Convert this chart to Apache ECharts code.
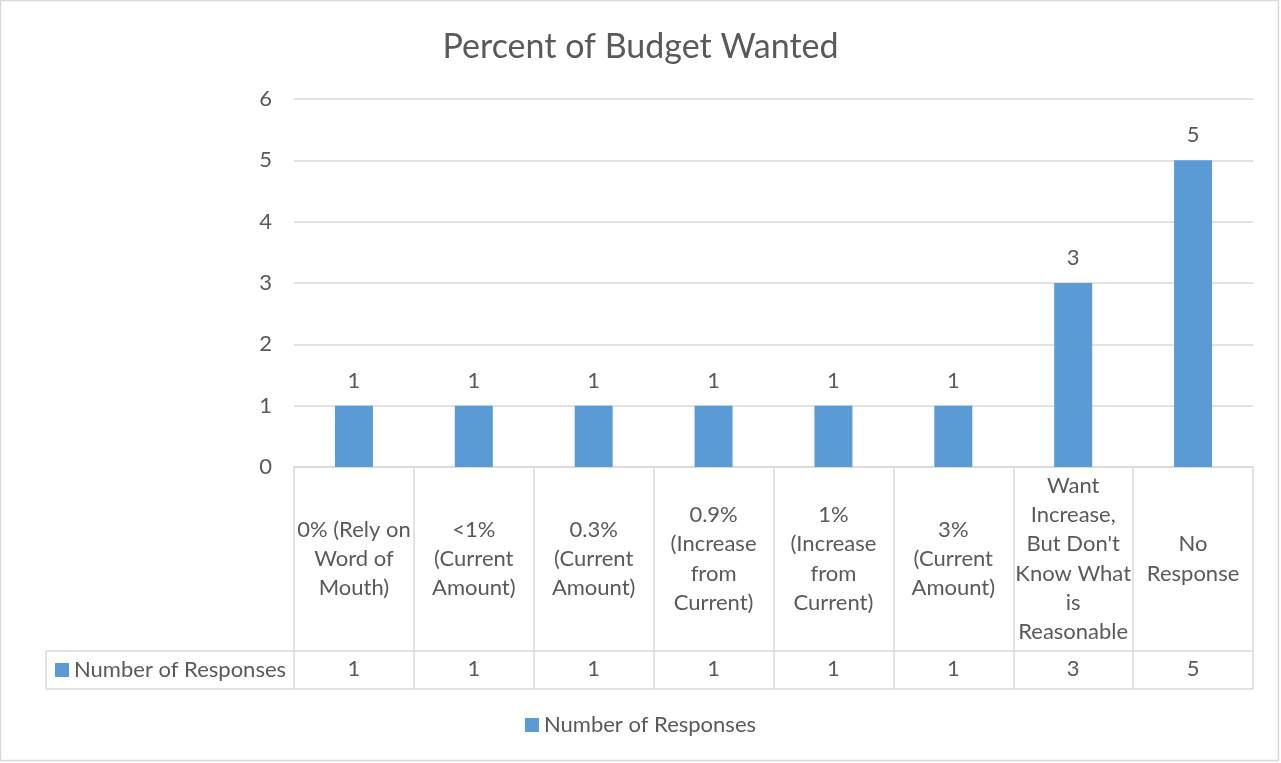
<!DOCTYPE html>
<html>
<head>
<meta charset="utf-8">
<title>Percent of Budget Wanted</title>
<script src="https://cdn.jsdelivr.net/npm/echarts@6/dist/echarts.min.js"></script>
<style>
  html, body { margin: 0; padding: 0; background: #ffffff; }
  #chart { width: 1281px; height: 763px; }
</style>
</head>
<body>
<div id="chart"></div>
<script>
// Category names (as wrapped in the table cells)
const categories = [
  '0% (Rely on\nWord of\nMouth)',
  '<1%\n(Current\nAmount)',
  '0.3%\n(Current\nAmount)',
  '0.9%\n(Increase\nfrom\nCurrent)',
  '1%\n(Increase\nfrom\nCurrent)',
  '3%\n(Current\nAmount)',
  'Want\nIncrease,\nBut Don\'t\nKnow What\nis\nReasonable',
  'No\nResponse'
];
const seriesName = 'Number of Responses';
const responses = [1, 1, 1, 1, 1, 1, 3, 5];
const yTicks = [0, 1, 2, 3, 4, 5, 6];

const FONT = 'Lato';
const TEXT = '#595959';
const LINE = '#d9d9d9';
const BAR = '#5b9bd5';

// plot area and data table geometry
const W = 1281, H = 763;
const plotLeft = 294, plotRight = 1253, plotTop = 99, plotBottom = 467;
const catRowBottom = 651, tableBottom = 689, tableLeft = 46;

const chart = echarts.init(document.getElementById('chart'), null, { renderer: 'canvas' });

chart.setOption({
  backgroundColor: '#ffffff',
  animation: false,
  textStyle: { fontFamily: FONT, color: TEXT },
  title: {
    text: 'Percent of Budget Wanted',
    left: 'center',
    top: 25,
    textStyle: { fontFamily: FONT, fontSize: 34, fontWeight: 'normal', color: TEXT }
  },
  legend: [
    {
      data: [seriesName],
      left: 'center',
      top: 709,
      icon: 'rect',
      itemWidth: 14, itemHeight: 14, itemGap: 6,
      textStyle: { fontFamily: FONT, fontSize: 22, color: TEXT },
      selectedMode: false
    },
    {
      data: [seriesName],
      left: 50,
      top: 654,
      icon: 'rect',
      itemWidth: 14, itemHeight: 14, itemGap: 6,
      textStyle: { fontFamily: FONT, fontSize: 22, color: TEXT },
      selectedMode: false
    }
  ],
  grid: {
    left: plotLeft,
    right: W - plotRight,
    top: plotTop,
    bottom: H - plotBottom,
    containLabel: false
  },
  xAxis: [
    {
      type: 'category',
      data: categories,
      boundaryGap: true,
      axisLine: { show: true, lineStyle: { color: LINE, width: 1.5 } },
      axisTick: {
        show: true, interval: 0, alignWithLabel: false,
        length: tableBottom - plotBottom,
        lineStyle: { color: LINE, width: 1.5 }
      },
      axisLabel: {
        interval: 0,
        fontFamily: FONT, fontSize: 22, lineHeight: 29.3, color: TEXT,
        align: 'center', verticalAlign: 'middle',
        margin: (catRowBottom - plotBottom) / 2
      }
    },
    {
      type: 'category',
      data: responses.map(String),
      position: 'bottom',
      offset: catRowBottom - plotBottom,
      boundaryGap: true,
      axisLine: { show: true, lineStyle: { color: LINE, width: 1.5 } },
      axisTick: { show: false },
      axisLabel: {
        interval: 0,
        fontFamily: FONT, fontSize: 22, color: TEXT,
        verticalAlign: 'middle',
        margin: (tableBottom - catRowBottom) / 2 - 1
      }
    }
  ],
  yAxis: {
    type: 'value',
    min: yTicks[0],
    max: yTicks[yTicks.length - 1],
    interval: 1,
    axisLine: { show: false },
    axisTick: { show: false },
    axisLabel: { fontFamily: FONT, fontSize: 22, color: TEXT, margin: 22 },
    splitLine: { show: true, lineStyle: { color: LINE, width: 1.5 } }
  },
  series: [
    {
      name: seriesName,
      type: 'bar',
      xAxisIndex: 0,
      data: responses,
      barWidth: 38,
      itemStyle: { color: BAR },
      label: {
        show: true, position: 'top', distance: 14,
        fontFamily: FONT, fontSize: 22, color: TEXT
      }
    }
  ],
  graphic: [
    // outer chart frame
    { type: 'rect', shape: { x: 0.5, y: 0.5, width: W - 3, height: H - 3 },
      style: { fill: 'none', stroke: LINE, lineWidth: 1.5 }, silent: true },
    // data table border pieces outside the plot area
    { type: 'line', shape: { x1: tableLeft, y1: catRowBottom, x2: plotLeft, y2: catRowBottom },
      style: { stroke: LINE, lineWidth: 1.5 }, silent: true },
    { type: 'line', shape: { x1: tableLeft, y1: tableBottom, x2: plotRight, y2: tableBottom },
      style: { stroke: LINE, lineWidth: 1.5 }, silent: true },
    { type: 'line', shape: { x1: tableLeft, y1: catRowBottom, x2: tableLeft, y2: tableBottom },
      style: { stroke: LINE, lineWidth: 1.5 }, silent: true }
  ]
});
</script>
</body>
</html>
